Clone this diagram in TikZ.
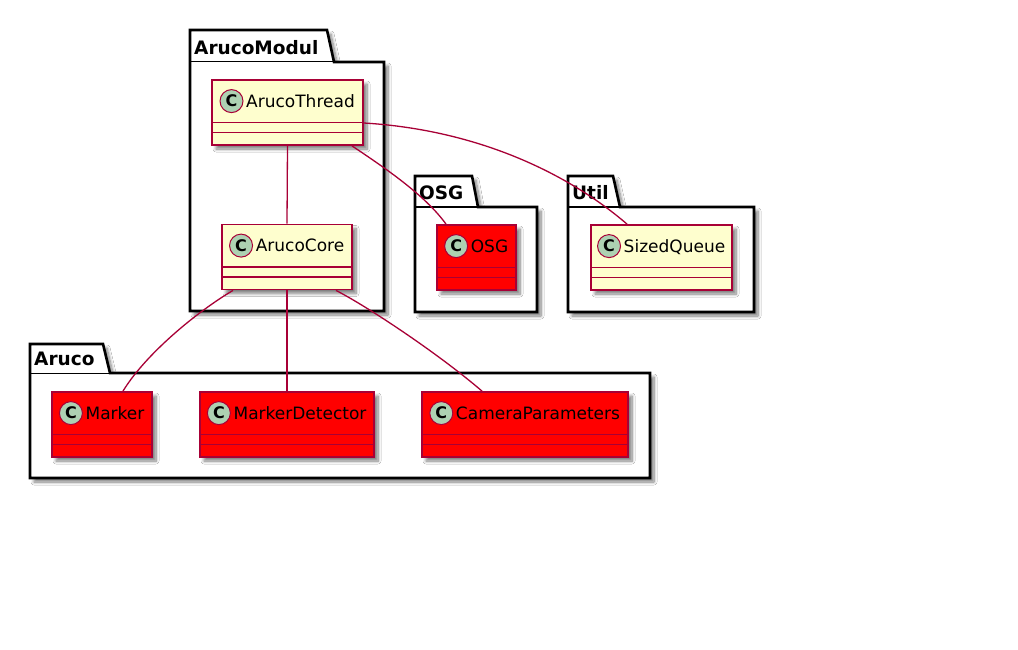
\documentclass[tikz,border=0pt]{standalone}
\usepackage{fontspec}
\setmainfont{DejaVu Sans}
\usetikzlibrary{shadows.blur}
\definecolor{umlborder}{HTML}{A80036}
\definecolor{umlyellow}{HTML}{FEFECE}
\definecolor{umlcircle}{HTML}{ADD1B2}
\definecolor{umlred}{HTML}{FF0000}
\tikzset{
  shad/.style={blur shadow={shadow xshift=4pt, shadow yshift=-4pt, shadow blur radius=3pt, shadow blur steps=8, shadow opacity=50}},
  cls/.style={draw=umlborder, line width=1.8pt, fill=#1, minimum height=65pt, inner sep=0pt, shad},
  clsname/.style={inner sep=0pt, anchor=base, font=\fontsize{17}{20}\selectfont, text=black},
  circ/.style={circle, draw=umlborder, line width=1pt, fill=umlcircle, minimum size=23pt, inner sep=0pt, font=\bfseries\fontsize{16}{16}\selectfont},
  sepline/.style={draw=umlborder, line width=1.6pt},
  pkg/.style={draw=black, line width=2.6pt, fill=white, line join=miter, shad},
  pkgsep/.style={draw=black, line width=1pt},
  pkgname/.style={inner sep=0pt, anchor=base west, font=\bfseries\fontsize{18.5}{22}\selectfont},
  conn/.style={draw=umlborder, line width=1.3pt}
}
% id, cx, cy, width, label, fill
\newcommand\umlclass[6]{%
  \node[cls=#6, minimum width=#4pt] (#1) at (#2,#3) {};
  \draw[sepline] ([yshift=-43.5pt]#1.north west) -- ([yshift=-43.5pt]#1.north east);
  \draw[sepline] ([yshift=-53.5pt]#1.north west) -- ([yshift=-53.5pt]#1.north east);
  \node[clsname] (#1-name) at ([xshift=13pt,yshift=-28pt]#1.north) {#5};
  \node[circ] (#1-c) at ([xshift=-14.5pt,yshift=6pt]#1-name.base west) {C};
}
% id, left, tabtop, bodytop, bottom, right, tabright, slant, label
\newcommand\umlpkg[9]{%
  \draw[pkg] (#2,#3) -- (#7,#3) -- (#8,#4) -- (#6,#4) -- (#6,#5) -- (#2,#5) -- cycle;
  \draw[pkgsep] (#2,#4) -- (#8,#4);
  \node[pkgname] (#1) at ({#2+4},{#4-7.5}) {#9};
}
\begin{document}
\begin{tikzpicture}[x=1pt,y=-1pt]
\useasboundingbox[fill=white] (0,0) rectangle (1018,650);

% packages
\umlpkg{pkgArucoModul}{190}{30}{62}{311}{384}{327}{334}{ArucoModul}
\umlpkg{pkgOSG}{415}{176}{207}{312}{537}{472}{478}{OSG}
\umlpkg{pkgUtil}{568}{176}{207}{312}{754}{613}{620}{Util}
\umlpkg{pkgAruco}{30}{344}{373}{478}{650}{103}{110}{Aruco}

% classes
\umlclass{arucothread}{287.5}{112.5}{151}{ArucoThread}{umlyellow}
\umlclass{arucocore}{287}{257}{130}{ArucoCore}{umlyellow}
\umlclass{osg}{476.5}{257.5}{79}{OSG}{umlred}
\umlclass{sizedqueue}{661.5}{257.5}{141}{SizedQueue}{umlyellow}
\umlclass{marker}{102}{424.5}{100}{Marker}{umlred}
\umlclass{markerdetector}{287}{424.5}{174}{MarkerDetector}{umlred}
\umlclass{cameraparams}{525}{424.5}{206}{CameraParameters}{umlred}

% connectors
\draw[conn] (arucothread.south) -- (arucocore.north);
\draw[conn] ([xshift=64.5pt]arucothread.south) .. controls (385,168) and (425,195) .. ([xshift=-30.5pt]osg.north);
\draw[conn] ([yshift=-10.5pt]arucothread.east) .. controls (480,130) and (570,175) .. ([xshift=-34.5pt]sizedqueue.north);
\draw[conn] ([xshift=-54pt]arucocore.south) .. controls (195,313) and (145,355) .. ([xshift=21pt]marker.north);
\draw[conn] (arucocore.south) -- (markerdetector.north);
\draw[conn] ([xshift=49pt]arucocore.south) .. controls (370,308) and (440,355) .. ([xshift=-43pt]cameraparams.north);
\end{tikzpicture}
\end{document}
